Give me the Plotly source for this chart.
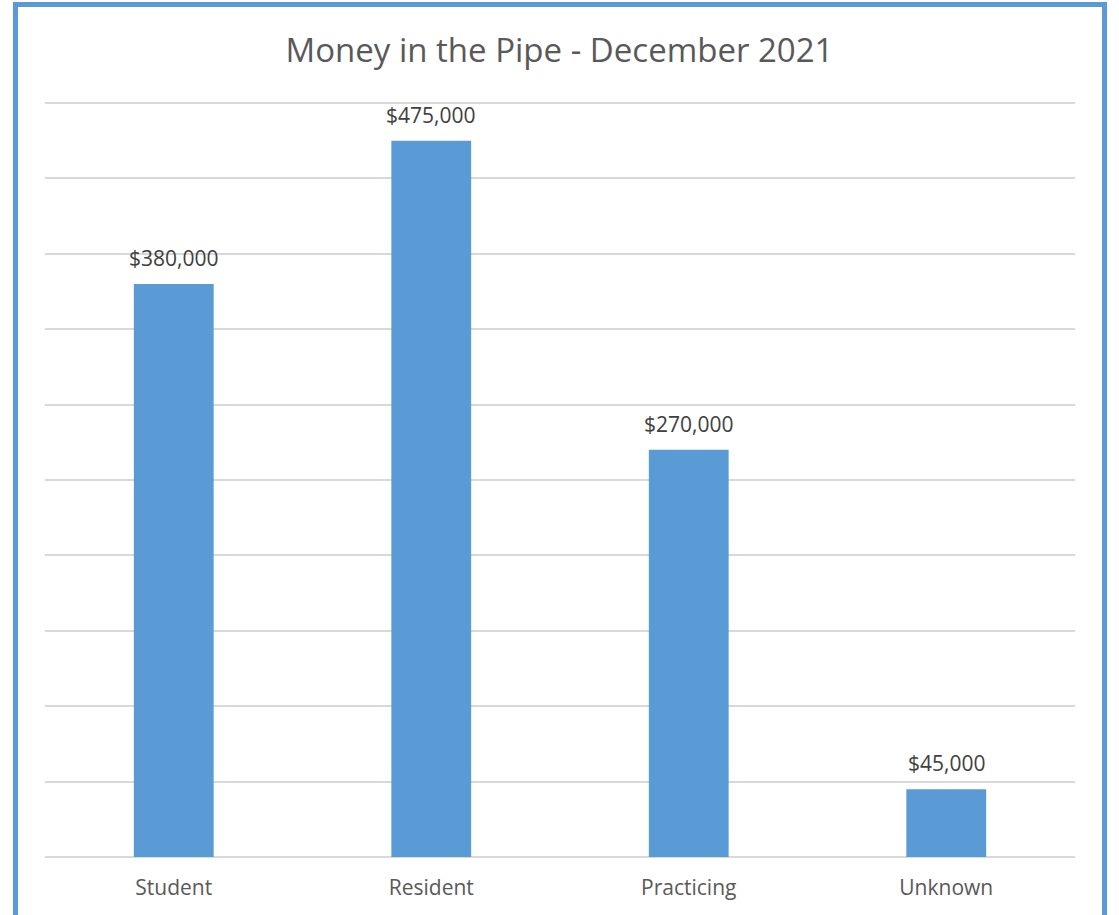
import plotly.graph_objects as go

categories = ["Student", "Resident", "Practicing", "Unknown"]
values = [380000, 475000, 270000, 45000]
value_labels = ["$380,000", "$475,000", "$270,000", "$45,000"]
title_text = "Money in the Pipe - December 2021"

W, H = 1119, 915
ml, mr, mt, mb = 45, 44, 95, 58
pw = W - ml - mr
ph = H - mt - mb
# 500,000 gridline sits 754 px above baseline
ytop = 500000 * ph / 754

fig = go.Figure()
fig.add_trace(go.Bar(
    x=categories, y=values,
    marker=dict(color="#5B9BD5", line=dict(width=0)),
    hoverinfo="skip",
))

for c, v, t in zip(categories, values, value_labels):
    fig.add_annotation(x=c, y=v, text=t, showarrow=False, yanchor="bottom",
                       yshift=10, font=dict(size=21, color="#404040"))

# outer border
fig.add_shape(type="rect", xref="paper", yref="paper",
              x0=(15.5 - ml) / pw, x1=(1104.5 - ml) / pw,
              y0=-(H - mt + 40) / ph, y1=(mt - 4.5) / ph + 1,
              line=dict(color="#5B9BD5", width=5), layer="above")

fig.update_layout(
    width=W, height=H,
    margin=dict(l=ml, r=mr, t=mt, b=mb),
    paper_bgcolor="white", plot_bgcolor="white",
    bargap=0.69,
    showlegend=False,
    font=dict(family="Open Sans", color="#595959"),
    title=dict(text=title_text, x=0.5, xanchor="center", y=1 - 50 / H, yanchor="middle",
               font=dict(size=33, color="#595959")),
    xaxis=dict(showgrid=False, showline=False, zeroline=False,
               tickfont=dict(size=21, color="#595959"), ticks="", ticklabelstandoff=16),
    yaxis=dict(range=[0, ytop], dtick=50000, showgrid=True, gridcolor="#D9D9D9",
               gridwidth=1.5, zeroline=True, zerolinecolor="#D9D9D9", zerolinewidth=1.5,
               showticklabels=False, showline=False),
)

fig.write_html("out.html", config={"displayModeBar": False},
               post_script="document.body.style.margin='0';document.body.style.overflow='hidden';")
